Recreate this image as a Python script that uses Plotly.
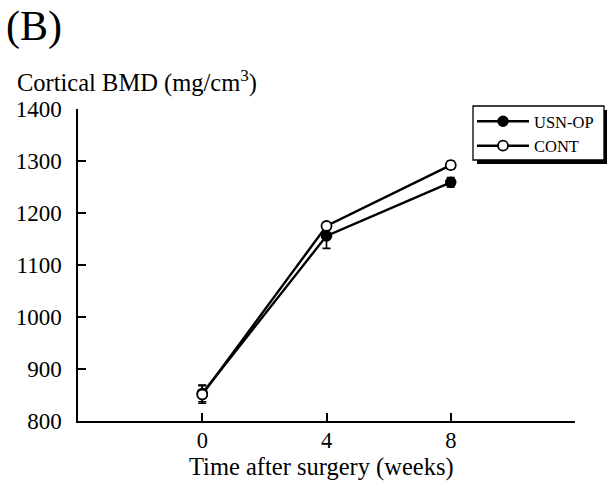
import plotly.graph_objects as go

weeks = [0, 4, 8]
usn_op = [853, 1156, 1259]
usn_op_err = [16, 24, 9]
cont = [851, 1175, 1292]
cont_err = [17, 6, 8]

x_tick_vals = [0, 4, 8, 12]
x_tick_text = ["0", "4", "8", ""]
y_tick_vals = [800, 900, 1000, 1100, 1200, 1300, 1400]

FONT = "Liberation Serif"

fig = go.Figure()
fig.add_trace(go.Scatter(
    x=weeks, y=usn_op, name="USN-OP", mode="lines+markers",
    line=dict(color="black", width=2.4),
    marker=dict(symbol="circle", size=10, color="black", line=dict(color="black", width=1.5)),
    error_y=dict(type="data", array=usn_op_err, color="black", thickness=1.6, width=4),
))
fig.add_trace(go.Scatter(
    x=weeks, y=cont, name="CONT", mode="lines+markers",
    line=dict(color="black", width=2.4),
    marker=dict(symbol="circle", size=10, color="white", line=dict(color="black", width=1.8)),
    error_y=dict(type="data", array=cont_err, color="black", thickness=1.6, width=4),
))

L, R, T, B = 78, 32, 109, 62
W, H = 607, 483
pw, ph = W - L - R, H - T - B

def px2x(px):
    return (px - L) / pw

def py2y(py):
    return (H - B - py) / ph

# legend box with drop shadow
lx0, ly0, lx1, ly1 = 473, 106, 604, 160
fig.add_shape(type="rect", xref="paper", yref="paper",
              x0=px2x(lx0 + 4), x1=px2x(lx1 + 4), y0=py2y(ly1 + 4), y1=py2y(ly0 + 4),
              fillcolor="black", line=dict(width=0), layer="above")
fig.add_shape(type="rect", xref="paper", yref="paper",
              x0=px2x(lx0), x1=px2x(lx1), y0=py2y(ly1), y1=py2y(ly0),
              fillcolor="white", line=dict(color="black", width=1.3), layer="above")

fig.add_annotation(text="(B)", xref="paper", yref="paper", x=px2x(4), y=py2y(1),
                   xanchor="left", yanchor="top", showarrow=False,
                   font=dict(family=FONT, size=42, color="black"))
fig.add_annotation(text="Cortical BMD (mg/cm<sup>3</sup>)", xref="paper", yref="paper",
                   x=px2x(15), y=py2y(99), xanchor="left", yanchor="bottom", showarrow=False,
                   font=dict(family=FONT, size=24.5, color="black"))
fig.add_annotation(text="Time after surgery (weeks)", xref="paper", yref="paper",
                   x=px2x(321), y=py2y(483), xanchor="center", yanchor="bottom", showarrow=False,
                   font=dict(family=FONT, size=24.5, color="black"))

fig.update_layout(
    width=W, height=H,
    margin=dict(l=L, r=R, t=T, b=B, autoexpand=False),
    paper_bgcolor="white", plot_bgcolor="white",
    font=dict(family=FONT, color="black"),
    showlegend=True,
    legend=dict(x=px2x(lx0 - 1), y=py2y(104), xanchor="left", yanchor="top",
                bgcolor="rgba(0,0,0,0)", borderwidth=0,
                font=dict(family=FONT, size=16.5, color="black"),
                tracegroupgap=0, itemwidth=52),
    xaxis=dict(range=[-4, 12], tickvals=x_tick_vals, ticktext=x_tick_text,
               ticks="inside", ticklen=8, tickwidth=1.5, tickcolor="black",
               showline=True, linecolor="black", linewidth=1.5,
               showgrid=False, zeroline=False, ticklabelstandoff=-2,
               tickfont=dict(family=FONT, size=22.5, color="black")),
    yaxis=dict(range=[800, 1400], tickvals=y_tick_vals,
               ticks="inside", ticklen=8, tickwidth=1.5, tickcolor="black",
               showline=True, linecolor="black", linewidth=1.5,
               showgrid=False, zeroline=False, ticklabelstandoff=10,
               tickfont=dict(family=FONT, size=23, color="black")),
)

fig.write_html("out.html")
